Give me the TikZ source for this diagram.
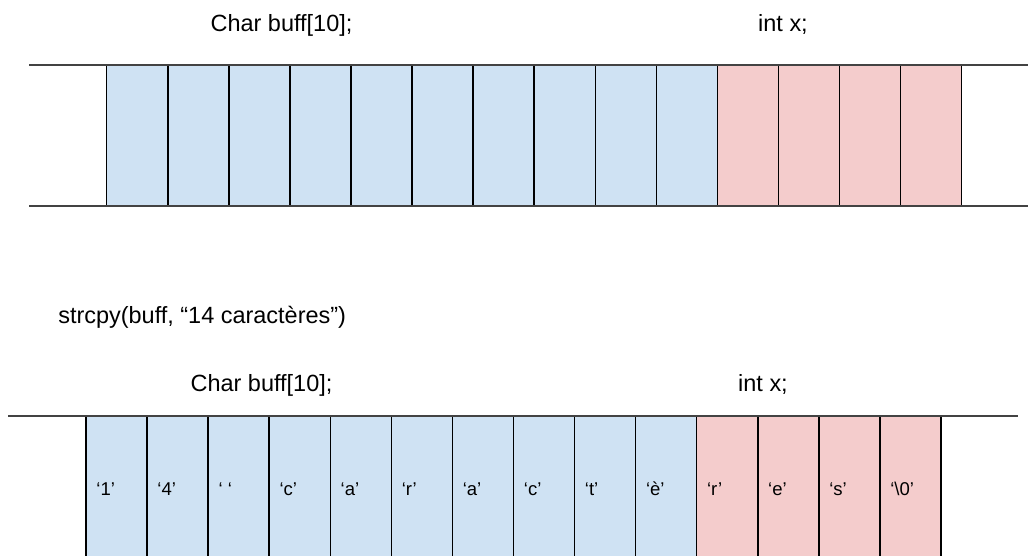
\documentclass[tikz,border=0pt]{standalone}
\usepackage{fontspec}
\setmainfont{Liberation Sans}
\definecolor{buffblue}{HTML}{CFE2F3}
\definecolor{intred}{HTML}{F4CCCC}
\definecolor{railgray}{HTML}{434343}
\tikzset{
  cell/.style={draw=black, line width=1.1pt, minimum width=45.8pt, minimum height=106.1pt, inner sep=0pt, outer sep=0pt},
  buffcell/.style={cell, fill=buffblue},
  intcell/.style={cell, fill=intred},
  rail/.style={draw=railgray, line width=1.5pt},
  heading/.style={font=\fontsize{17.6}{20}\selectfont, inner sep=0pt, anchor=base},
  charlbl/.style={font=\fontsize{13.9}{16}\selectfont, inner sep=0pt, anchor=base west},
}
\begin{document}
\begin{tikzpicture}[x=0.75pt, y=-0.75pt]
    \def \pitch{61.07}
    \def \topx{106.7}
    \def \botx{86}

    \useasboundingbox (0,0) rectangle (1028,556);

    % memory before the copy
    \begin{scope}
     \node[heading] (hbuff) at (281.5,32) {Char buff[10];};
     \node[heading] (hint) at (783,32) {int x;};
     \foreach \i in {1,...,10}{ \node[buffcell] (t\i) at ({\topx+\pitch*(\i-0.5)},135.8) {}; }%
     \foreach \i in {11,...,14}{ \node[intcell] (t\i) at ({\topx+\pitch*(\i-0.5)},135.8) {}; }%

     \coordinate (tl) at (29,65);  \coordinate (tr) at (1028,65);
     \coordinate (bl) at (29,206.5); \coordinate (br) at (1028,206.5);
     \draw[rail] (tl) -- (tr);
     \draw[rail] (bl) -- (br);
    \end{scope}

    \node[heading, anchor=base west] (call) at (58,323) {strcpy(buff, “14 caractères”)};

    % memory after the copy
    \begin{scope}
     \node[heading] (hbuff2) at (261.5,391) {Char buff[10];};
     \node[heading] (hint2) at (763,391) {int x;};
     \foreach \i in {1,...,10}{ \node[buffcell] (d\i) at ({\botx+\pitch*(\i-0.5)},486.75) {}; }%
     \foreach \i in {11,...,14}{ \node[intcell] (d\i) at ({\botx+\pitch*(\i-0.5)},486.75) {}; }%

     \coordinate (ml) at (8,416); \coordinate (mr) at (1018,416);
     \draw[rail] (ml) -- (mr);

     \foreach \i/\c in {1/‘1’, 2/‘4’, 3/‘ ‘, 4/‘c’, 5/‘a’, 6/‘r’, 7/‘a’, 8/‘c’, 9/‘t’, 10/‘è’, 11/‘r’, 12/‘e’, 13/‘s’, 14/‘\textbackslash0’}{
       \node[charlbl] (l\i) at ([xshift=7.6pt, yshift=-6.9pt]d\i.west) {\c};
     }
    \end{scope}
\end{tikzpicture}
\end{document}
